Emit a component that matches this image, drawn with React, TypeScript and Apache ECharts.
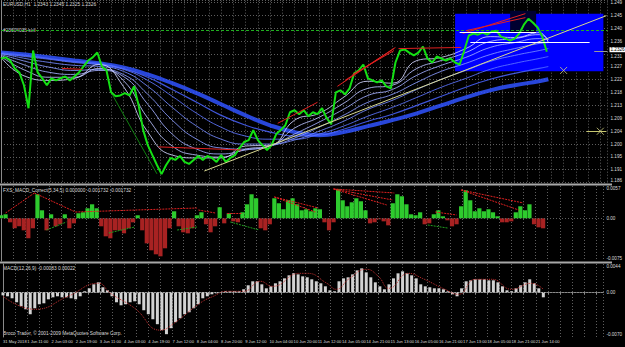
import React, { useEffect, useRef } from "react";
import * as echarts from "echarts";

// ---- x positions are H1 bar indices; price/indicator samples are every SAMPLE_STEP bars
const SAMPLE_STEP = 3;
const X_MAX = 396.7;

const timeLabels = [
  "31 May 2018", "1 Jun 11:00", "2 Jun 03:00", "2 Jun 19:00", "3 Jun 11:00", "4 Jun 03:00",
  "4 Jun 19:00", "7 Jun 12:00", "8 Jun 04:00", "8 Jun 20:00", "9 Jun 12:00", "10 Jun 04:00",
  "10 Jun 20:00", "11 Jun 12:00", "14 Jun 05:00", "14 Jun 21:00", "15 Jun 13:00", "16 Jun 05:00",
  "16 Jun 21:00", "17 Jun 13:00", "18 Jun 05:00", "18 Jun 21:00", "21 Jun 14:00",
];

const priceTickLabels = [
  "1.186", "1.191", "1.195", "1.200", "1.204", "1.209", "1.213", "1.218",
  "1.222", "1.227", "1.231", "1.236", "1.240", "1.245", "1.249",
];

const closePrices = [
  1.2302, 1.2306, 1.2295, 1.2267, 1.2253, 1.2208, 1.2127, 1.2330, 1.2253, 1.2232,
  1.2208, 1.2232, 1.2225, 1.2232, 1.2239, 1.2225, 1.2239, 1.2253, 1.2274, 1.2295,
  1.2306, 1.2323, 1.2274, 1.2260, 1.2183, 1.2169, 1.2172, 1.2180, 1.2172, 1.2204,
  1.2137, 1.2050, 1.1997, 1.1962, 1.1927, 1.1895, 1.1927, 1.1952, 1.1945, 1.1959,
  1.1938, 1.1931, 1.1945, 1.1959, 1.1945, 1.1959, 1.1952, 1.1938, 1.1962, 1.1938,
  1.1952, 1.1962, 1.1987, 1.2008, 1.2015, 1.2050, 1.2015, 1.1997, 1.1980, 1.1997,
  1.2036, 1.2050, 1.2067, 1.2113, 1.2120, 1.2106, 1.2120, 1.2099, 1.2113, 1.2106,
  1.2127, 1.2092, 1.2071, 1.2183, 1.2190, 1.2176, 1.2197, 1.2250, 1.2260, 1.2281,
  1.2232, 1.2225, 1.2218, 1.2225, 1.2204, 1.2197, 1.2288, 1.2330, 1.2334, 1.2323,
  1.2313, 1.2323, 1.2344, 1.2302, 1.2288, 1.2309, 1.2302, 1.2295, 1.2302, 1.2288,
  1.2281, 1.2330, 1.2383, 1.2390, 1.2386, 1.2393, 1.2386, 1.2397, 1.2400, 1.2379,
  1.2372, 1.2365, 1.2372, 1.2390, 1.2421, 1.2442, 1.2428, 1.2411, 1.2379, 1.2326,
];

// FXS_MACD_Correct histogram, in units of 0.0001
const corrHistogram = [
  5.3, 7, -7, -17.5, -14, -21, -35, -17.5, 42, 14,
  -21, 7, -14, -10.5, 7, -17.5, -8.8, 8.8, 10.5, 17.5,
  24.5, 17.5, -14, -31.5, -35, -21, -21, -26.3, -17.5, -7,
  5.3, -21, -43.8, -56, -63, -66.5, -52.5, -17.5, 12.3, -14,
  -24.5, -26.3, -17.5, 5.3, 10.5, -10.5, -24.5, -14, 19.3, -8.8,
  8.8, -5.3, -7, 10.5, 24.5, 42, 35, -17.5, -21, -10.5,
  35, 26.3, 15.8, 31.5, 35, 24.5, 14, 15.8, 12.3, 17.5,
  15.8, -7, -21, -7, 50.8, 31.5, 21, 28, 35, 29.8,
  14, -8.8, -7, -1.8, -5.3, -12.3, 26.3, 42, 38.5, 24.5,
  7, 5.3, 10.5, -10.5, -8.8, 7, 14, 3.5, -3.5, -14,
  -10.5, 21, 49, 31.5, 12.3, 17.5, 12.3, 15.8, 10.5, 3.5,
  -7, -7, -5.3, 10.5, 21, 14, 24.5, -10.5, -15.8, -17.5,
];

// MACD(12,26,9) main histogram, in units of 0.0001
const macdHistogram = [
  -4.7, -6.2, -9.3, -15.5, -21.7, -26.4, -34.1, -24.8, -18.6, -17.1,
  -10.9, -7.8, -6.2, -7.8, -7.8, -9.3, -10.9, -6.2, 1.6, 6.2,
  12.4, 15.5, 7.8, 3.1, -6.2, -15.5, -20.2, -18.6, -15.5, -14,
  -18.6, -27.9, -34.1, -41.9, -49.6, -58.9, -65.1, -55.8, -46.5, -40.3,
  -34.1, -31, -24.8, -18.6, -9.3, -6.2, -3.1, -1.6, 0.4, 1.6,
  1.6, 1.6, 1.6, 4.7, 10.9, 17.1, 17.1, 12.4, 6.2, 9.3,
  14, 17.1, 21.7, 26.4, 29.5, 27.9, 24.8, 23.3, 20.2, 17.1,
  14, 9.3, 3.1, 1.6, 17.1, 21.7, 23.3, 27.9, 34.1, 37.2,
  31, 23.3, 15.5, 9.3, 4.7, 12.4, 21.7, 29.5, 32.6, 29.5,
  26.4, 21.7, 12.4, 9.3, 7.8, 6.2, 6.2, 4.7, 1.6, -3.1,
  -6.2, 6.2, 17.1, 18.6, 20.2, 20.2, 20.2, 18.6, 18.6, 15.5,
  9.3, 3.1, 1.6, 6.2, 10.9, 15.5, 20.2, 14, 6.2, -7.8,
];

const macdSignalBars = [0, 21, 43, 63, 71, 87, 104, 113, 130, 139, 148, 159, 170, 178, 196, 201, 214, 220, 229, 240, 248, 255, 268, 277, 292, 301, 312, 323, 336, 349, 357];
const macdSignalValues = [-6.2, -26.4, -6.2, 14, -1.6, -24.8, -58.9, -48.1, -17.1, -6.2, 1.6, 1.6, 17.1, 9.3, 29.5, 29.5, 14, 4.7, 21.7, 35.7, 24.8, 6.2, 29.5, 21.7, 4.7, -3.1, 20.2, 20.2, 4.7, 14, 4.7];

// moving-average ribbon (fast -> slow), read at these bars
const ribbonBars = [0, 16, 32, 48, 64, 80, 96, 112, 128, 144, 160, 176, 192, 208, 224, 240, 256, 272, 288, 304, 320, 336, 352, 358];
const ma1 = [1.2306, 1.2239, 1.2225, 1.2232, 1.2281, 1.2204, 1.2043, 1.1962, 1.1952, 1.1952, 1.1994, 1.1997, 1.2085, 1.2109, 1.2165, 1.2222, 1.2215, 1.2295, 1.2306, 1.2337, 1.2379, 1.2376, 1.2393, 1.2358];
const ma2 = [1.2309, 1.2260, 1.2236, 1.2236, 1.2267, 1.2225, 1.2092, 1.1994, 1.1962, 1.1955, 1.1983, 1.1994, 1.2057, 1.2095, 1.2144, 1.2197, 1.2208, 1.2267, 1.2295, 1.2323, 1.2362, 1.2372, 1.2386, 1.2369];
const ma3 = [1.2313, 1.2278, 1.2253, 1.2246, 1.2260, 1.2239, 1.2141, 1.2036, 1.1983, 1.1966, 1.1980, 1.1994, 1.2036, 1.2078, 1.2123, 1.2172, 1.2193, 1.2243, 1.2278, 1.2306, 1.2341, 1.2358, 1.2372, 1.2369];
const ma4 = [1.2316, 1.2292, 1.2271, 1.2260, 1.2264, 1.2246, 1.2176, 1.2085, 1.2018, 1.1987, 1.1983, 1.1994, 1.2022, 1.2060, 1.2102, 1.2148, 1.2176, 1.2218, 1.2257, 1.2285, 1.2316, 1.2337, 1.2355, 1.2358];
const ma5 = [1.2320, 1.2302, 1.2288, 1.2278, 1.2274, 1.2257, 1.2204, 1.2130, 1.2064, 1.2018, 1.2001, 1.2001, 1.2015, 1.2046, 1.2081, 1.2123, 1.2155, 1.2193, 1.2229, 1.2260, 1.2292, 1.2313, 1.2330, 1.2337];
const ma6 = [1.2320, 1.2309, 1.2299, 1.2288, 1.2281, 1.2264, 1.2225, 1.2169, 1.2109, 1.2060, 1.2029, 1.2018, 1.2018, 1.2036, 1.2064, 1.2099, 1.2130, 1.2165, 1.2201, 1.2232, 1.2264, 1.2285, 1.2302, 1.2309];
const ma7 = [1.2323, 1.2313, 1.2302, 1.2292, 1.2285, 1.2267, 1.2236, 1.2193, 1.2148, 1.2102, 1.2067, 1.2043, 1.2029, 1.2032, 1.2053, 1.2081, 1.2106, 1.2137, 1.2169, 1.2201, 1.2229, 1.2250, 1.2267, 1.2274];
const ma8 = [1.2323, 1.2316, 1.2306, 1.2295, 1.2285, 1.2271, 1.2246, 1.2215, 1.2180, 1.2141, 1.2102, 1.2067, 1.2043, 1.2032, 1.2043, 1.2064, 1.2085, 1.2109, 1.2137, 1.2165, 1.2190, 1.2208, 1.2222, 1.2229];

// drawn objects: [bar1, value1, bar2, value2]
const priceRedLines = [
  [181, 1.2074, 207, 1.2148],
  [220, 1.2204, 257, 1.2337],
  [225, 1.2225, 258, 1.2341],
  [230, 1.2246, 257, 1.2330],
  [260, 1.2337, 301, 1.2341],
  [302, 1.2390, 343, 1.2460],
  [304, 1.2400, 343, 1.2446],
  [103, 1.1991, 157, 1.1980],
  [40, 1.2267, 53, 1.2264],
];
const priceGreenLines = [[73, 1.2173, 102, 1.1896]];
const trendLine = [133, 1.1906, 396, 1.2453];
const boxWhiteLines = [
  [307, 1.2358, 385, 1.2358],
  [300, 1.2394, 350, 1.2394],
];
const crossLevelLine = [383, 1.2046, 396, 1.2046];
const crossMarks = [[368, 1.2260], [392, 1.2046]];
const stopLevel = 1.2425;
const entryLevel = 1.2390;
const bidPrice = 1.2326;
const blueBox = [297, 1.2460, 394, 1.2257];
const darkBox = [333, 1.2470, 350, 1.2394];

const corrRedLines = [
  [180, 37.3, 209, 18],
  [180, 37.3, 207, 11],
  [219, 51.3, 259, 44.3],
  [219, 51.3, 254, 23.3],
  [219, 51.3, 258, 32],
  [303, 49.5, 344, 26.8],
  [303, 49.5, 341, 14.5],
  [3, 9.3, 22, 44.3],
  [22, 44.3, 49, 11],
  [49, 11, 129, 18],
  [130, 14.5, 141, 9.3],
  [149, 9.3, 159, 9.3],
  [286, 11, 300, 5.8],
];
const corrGreenLines = [
  [30, -20.5, 43, -6.5],
  [71, -25.7, 88, -15.2],
  [116, -20.5, 129, -15.2],
  [151, -6.5, 170, -20.5],
  [281, -11.7, 294, -17],
];

const PRICE_STEP = 0.0045287;
const PRICE_MIN = 262 * PRICE_STEP;
const PRICE_MAX = 1.25056;
const CORR_MIN = -74.7;
const CORR_MAX = 56.5;
const CORR_LABELS = ["-0.0075", "0.00", "0.0057"];
const MACD_MIN = -69.5;
const MACD_MAX = 44;
const MACD_LABELS = ["-0.0070", "0.00", "0.0044"];

const FONT = "Liberation Sans";
const GRID_COLOR = "#5e5e5e";
const AXIS_COLOR = "#8a8a8a";
const TEXT_COLOR = "#dcdcdc";
const LABEL_SIZE = 4.6;
const TIME_SIZE = 4.1;

const edgeRich = {
  up: { fontSize: LABEL_SIZE, fontFamily: FONT, color: TEXT_COLOR, padding: [0, 0, 5, 0] },
  down: { fontSize: LABEL_SIZE, fontFamily: FONT, color: TEXT_COLOR, padding: [5, 0, 0, 0] },
};

function seg(list: number[][], style: any) {
  return list.map((s) => [
    { coord: [s[0], s[1]], lineStyle: style },
    { coord: [s[2], s[3]] },
  ]);
}

export default function App() {
  const ref = useRef<HTMLDivElement>(null);

  useEffect(() => {
    document.body.style.margin = "0";
    document.body.style.background = "#000";
    if (!ref.current) return;
    const chart = echarts.init(ref.current, null, { renderer: "svg" });

    const xBase = (gridIndex: number, showLabels: boolean) => ({
      type: "value",
      gridIndex,
      min: 0,
      max: X_MAX,
      interval: 8,
      axisLine: { show: showLabels, lineStyle: { color: AXIS_COLOR } },
      axisTick: { show: showLabels, length: 2, lineStyle: { color: AXIS_COLOR } },
      splitLine: { show: true, lineStyle: { color: GRID_COLOR, type: [1, 2], width: 1 } },
      axisLabel: {
        show: showLabels,
        fontSize: TIME_SIZE,
        fontFamily: FONT,
        color: TEXT_COLOR,
        align: "left",
        margin: 2,
        showMaxLabel: false,
        formatter: (v: number) => {
          const r = Math.round(v);
          if (Math.abs(v - r) > 0.01 || r % 16 !== 0) return "";
          return timeLabels[r / 16] ?? "";
        },
      },
    });

    const panelY = (gridIndex: number, min: number, max: number, labels: string[]) => ({
      type: "value",
      gridIndex,
      position: "right",
      min,
      max,
      interval: -min,
      axisLine: { show: true, lineStyle: { color: AXIS_COLOR } },
      axisTick: { show: false },
      splitLine: { show: false },
      axisLabel: {
        fontSize: LABEL_SIZE,
        fontFamily: FONT,
        color: TEXT_COLOR,
        margin: 3,
        rich: edgeRich,
        formatter: (v: number) =>
          Math.abs(v) < 1e-9 ? labels[1] : v < 0 ? `{up|${labels[0]}}` : `{down|${labels[2]}}`,
      },
    });

    const ribbonSeries = [
      { d: ma8, c: "#2f52ff", w: 4 },
      { d: ma7, c: "#4a64ff", w: 1.2 },
      { d: ma6, c: "#5e76ff", w: 1 },
      { d: ma5, c: "#7489ff", w: 1 },
      { d: ma4, c: "#8a9bff", w: 1 },
      { d: ma3, c: "#a2aeff", w: 1 },
      { d: ma2, c: "#bac2ff", w: 1 },
      { d: ma1, c: "#d2d6ff", w: 1 },
    ].map((r, idx) => ({
      type: "line",
      xAxisIndex: 0,
      yAxisIndex: 0,
      smooth: true,
      symbol: "none",
      silent: true,
      z: 2,
      lineStyle: { color: r.c, width: r.w, opacity: 0.85 },
      data: ribbonBars.map((b, i) => [b, r.d[i]]),
      ...(idx === 0
        ? {
            markArea: {
              silent: true,
              z: 1,
              data: [
                [
                  { coord: [blueBox[0], blueBox[1]], itemStyle: { color: "#0000ff", opacity: 1 } },
                  { coord: [blueBox[2], blueBox[3]] },
                ],
                [
                  { coord: [darkBox[0], darkBox[1]], itemStyle: { color: "#000030", opacity: 1 } },
                  { coord: [darkBox[2], darkBox[3]] },
                ],
              ],
            },
          }
        : {}),
    }));

    const option: any = {
      animation: false,
      backgroundColor: "#000000",
      grid: [
        { left: 1, top: 0, width: 610, height: 182.6 },
        { left: 1, top: 186, width: 610, height: 75 },
        { left: 1, top: 264, width: 610, height: 73 },
      ],
      xAxis: [xBase(0, false), xBase(1, false), xBase(2, true)],
      yAxis: [
        {
          type: "value",
          gridIndex: 0,
          position: "right",
          min: PRICE_MIN,
          max: PRICE_MAX,
          interval: PRICE_STEP,
          axisLine: { show: true, lineStyle: { color: AXIS_COLOR } },
          axisTick: { show: false },
          splitLine: { show: true, lineStyle: { color: GRID_COLOR, type: [1, 2], width: 1 } },
          axisLabel: {
            fontSize: LABEL_SIZE,
            fontFamily: FONT,
            color: TEXT_COLOR,
            margin: 3,
            rich: edgeRich,
            formatter: (v: number) => {
              const k = (v - PRICE_MIN) / PRICE_STEP;
              const r = Math.round(k);
              if (Math.abs(k - r) > 0.03) return "";
              const t = priceTickLabels[r] ?? "";
              if (r === 0) return `{up|${t}}`;
              if (r === 10) return `{down|${t}}`;
              return t;
            },
          },
        },
        panelY(1, CORR_MIN, CORR_MAX, CORR_LABELS),
        panelY(2, MACD_MIN, MACD_MAX, MACD_LABELS),
      ],
      series: [
        ...ribbonSeries,
        {
          type: "line",
          name: "EURUSD,H1",
          xAxisIndex: 0,
          yAxisIndex: 0,
          symbol: "none",
          z: 4,
          lineStyle: { color: "#14e014", width: 2 },
          data: closePrices.map((p, i) => [i * SAMPLE_STEP, p]),
          markLine: {
            silent: true,
            symbol: ["none", "none"],
            label: { show: false },
            lineStyle: { width: 1, type: "solid" },
            data: [
              { yAxis: stopLevel, lineStyle: { color: "#ff2020", type: [3, 2], width: 1 } },
              { yAxis: entryLevel, lineStyle: { color: "#20b020", type: [3, 2], width: 1 } },
              ...seg(priceRedLines, { color: "#e02020", width: 1, type: "solid" }),
              ...seg(priceGreenLines, { color: "#108010", width: 1, type: "solid" }),
              ...seg([trendLine], { color: "#d8d890", width: 1, type: "solid" }),
              ...seg(boxWhiteLines, { color: "#ffffff", width: 1, type: "solid" }),
              ...seg([crossLevelLine], { color: "#c8c870", width: 1, type: "solid" }),
              [
                {
                  coord: [388, bidPrice],
                  lineStyle: { color: "#9a9a9a", width: 1, type: "solid" },
                  label: {
                    show: true,
                    position: "end",
                    formatter: "1.2326",
                    color: "#000",
                    backgroundColor: "#ffffff",
                    fontSize: LABEL_SIZE,
                    fontFamily: FONT,
                    padding: [0, 1, 0, 1],
                    distance: 2,
                    offset: [0, -2],
                  },
                },
                { coord: [X_MAX, bidPrice] },
              ],
            ],
          },
        },
        {
          type: "scatter",
          xAxisIndex: 0,
          yAxisIndex: 0,
          silent: true,
          z: 5,
          symbol: "path://M0,0L10,10M10,0L0,10",
          symbolSize: 7,
          itemStyle: { color: "rgba(0,0,0,0)", borderColor: "#d0d080", borderWidth: 1 },
          data: crossMarks,
        },
        {
          type: "bar",
          xAxisIndex: 1,
          yAxisIndex: 1,
          barWidth: 4.2,
          silent: true,
          itemStyle: {
            color: (p: any) => (p.value[1] >= 0 ? "#2ecb2e" : "#a82222"),
          },
          data: corrHistogram.map((v, i) => [i * SAMPLE_STEP, v]),
          markLine: {
            silent: true,
            symbol: ["none", "none"],
            label: { show: false },
            data: [
              { yAxis: 0, lineStyle: { color: GRID_COLOR, type: [1, 2], width: 1 } },
              ...seg(corrRedLines, { color: "#e02020", width: 1, type: [2, 1] }),
              ...seg(corrGreenLines, { color: "#20a020", width: 1, type: [2, 1] }),
            ],
          },
        },
        {
          type: "bar",
          xAxisIndex: 2,
          yAxisIndex: 2,
          barWidth: 3,
          silent: true,
          itemStyle: { color: "#d2d2d2" },
          data: macdHistogram.map((v, i) => [i * SAMPLE_STEP, v]),
          markLine: {
            silent: true,
            symbol: ["none", "none"],
            label: { show: false },
            data: [{ yAxis: 0, lineStyle: { color: GRID_COLOR, type: [1, 2], width: 1 } }],
          },
        },
        {
          type: "line",
          xAxisIndex: 2,
          yAxisIndex: 2,
          smooth: true,
          symbol: "none",
          silent: true,
          z: 4,
          lineStyle: { color: "#c03030", width: 1, type: [1, 1] },
          data: macdSignalBars.map((b, i) => [b, macdSignalValues[i]]),
        },
      ],
      graphic: [
        { type: "line", silent: true, shape: { x1: 0, y1: 184.5, x2: 612, y2: 184.5 }, style: { stroke: "#a8a8a8", lineWidth: 2 } },
        { type: "line", silent: true, shape: { x1: 0, y1: 262.5, x2: 612, y2: 262.5 }, style: { stroke: "#a8a8a8", lineWidth: 2 } },
        { type: "text", silent: true, left: 3, top: 2, style: { text: "EURUSD,H1  1.2343 1.2345 1.2325 1.2326", fill: TEXT_COLOR, fontSize: 4.8, fontFamily: FONT } },
        { type: "text", silent: true, left: 3, top: 28, style: { text: "#23604035 sell", fill: TEXT_COLOR, fontSize: 4.8, fontFamily: FONT } },
        { type: "text", silent: true, left: 3, top: 188, style: { text: "FXS_MACD_Correct(5,34,5) 0.000000 -0.001732 -0.001732", fill: TEXT_COLOR, fontSize: 4.8, fontFamily: FONT } },
        { type: "text", silent: true, left: 3, top: 265.5, style: { text: "MACD(12,26,9) -0.00083 0.00022", fill: TEXT_COLOR, fontSize: 4.8, fontFamily: FONT } },
        { type: "text", silent: true, left: 3, top: 331, style: { text: "Broco Trader, © 2001-2009 MetaQuotes Software Corp.", fill: TEXT_COLOR, fontSize: 4.8, fontFamily: FONT } },
      ],
    };

    chart.setOption(option);
    return () => chart.dispose();
  }, []);

  return (
    <div
      ref={ref}
      style={{ position: "absolute", left: 0, top: 0, width: 625, height: 347, background: "#000" }}
    />
  );
}
